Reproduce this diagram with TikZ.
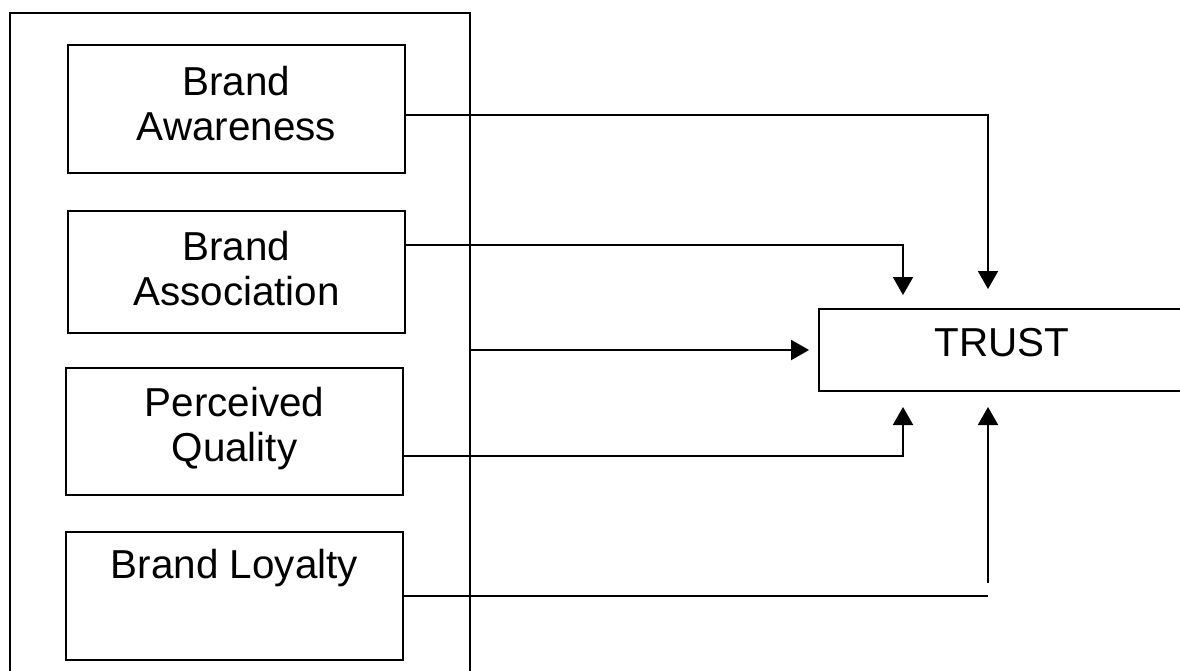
\documentclass[tikz,border=0pt]{standalone}
\usepackage{fontspec}
\setmainfont{Liberation Sans}
\usetikzlibrary{arrows.meta, calc}

\begin{document}
\begin{tikzpicture}[x=0.02cm, y=-0.02cm,
    box/.style={draw, line width=1.1pt, minimum width=6.74cm, minimum height=2.56cm,
      align=center, inner sep=0pt, font=\fontsize{23}{25.6}\selectfont},
    conn/.style={line width=1.1pt, -{Triangle[length=0.36cm, width=0.4cm]}},
    wire/.style={line width=1.1pt}]
  \useasboundingbox (0,0) rectangle (1180,670);
  \clip (0,0) rectangle (1180,670);

  % Outer frame (runs past the bottom edge)
  \node[draw, line width=1.1pt, minimum width=9.2cm, minimum height=14cm, inner sep=0pt]
    (frame) at (240,363) {};

  % Brand equity dimensions
  \node[box, text depth=0.24cm] (aware) at (236.5,109) {Brand\\Awareness};
  \node[box, minimum height=2.44cm, text depth=0.16cm] (assoc) at (236.5,272) {Brand\\Association};
  \node[box, minimum height=2.54cm, text depth=0.29cm] (qual) at (234.5,431.5) {Perceived\\Quality};
  \node[box, text depth=0.4cm] (loyal) at (234.5,596) {Brand Loyalty\\\mbox{}};

  % Outcome (runs past the right edge)
  \node[box, minimum width=7.32cm, minimum height=1.64cm, text depth=0.32cm]
    (trust) at (1002,350) {TRUST};

  % Arrow ends around TRUST
  \coordinate (awareIn) at (988,289);
  \coordinate (assocIn) at (903,295);
  \coordinate (qualIn) at (903,407);
  \coordinate (loyalIn) at (988,407);
  \coordinate (loyalEnd) at (988,596);
  \coordinate (loyalUp) at (988,583);

  % Connectors
  \draw[conn] ([yshift=-0.12cm]aware.east) -| (awareIn);
  \draw[conn] ([yshift=0.54cm]assoc.east) -| (assocIn);
  \draw[conn, shorten >=0.18cm] ([yshift=0.26cm]frame.east) -- (trust.west);
  \draw[conn] ([yshift=-0.49cm]qual.east) -| (qualIn);
  \draw[wire] (loyal.east) -- (loyalEnd);
  \draw[conn] (loyalUp) -- (loyalIn);
\end{tikzpicture}
\end{document}
